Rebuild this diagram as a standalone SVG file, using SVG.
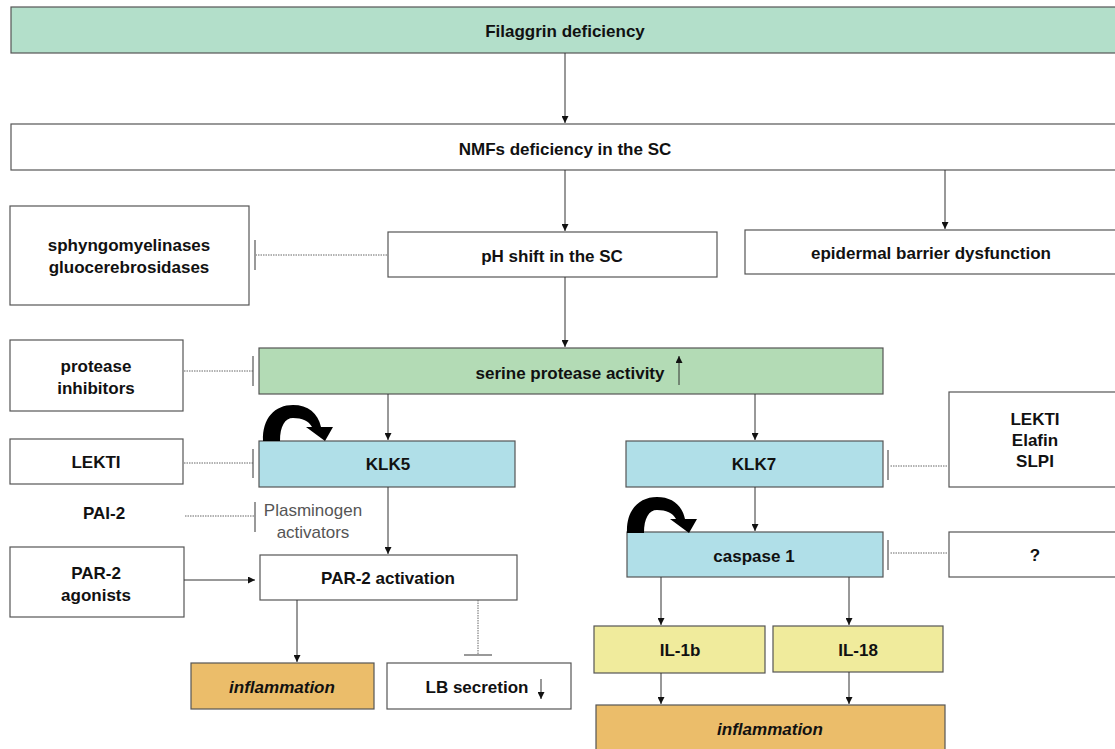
<svg xmlns="http://www.w3.org/2000/svg" width="1115" height="749" viewBox="0 0 1115 749">
<style>
.b{stroke:#555;stroke-width:1.2}
.w{fill:#fff}
.gt{fill:#b3dfca}
.gs{fill:#b3dbb5}
.bl{fill:#b0dfe8}
.ye{fill:#f0eb9c}
.or{fill:#ebbd6a}
text{font-family:"Liberation Sans",Arial,sans-serif;font-weight:bold;font-size:17px;fill:#111;text-anchor:middle;dominant-baseline:central}
.it{font-style:italic}
.pl{font-weight:normal;fill:#555;font-size:17px}
.a{stroke:#333;stroke-width:1;fill:none;marker-end:url(#ah)}
.d{stroke:#666;stroke-width:1;stroke-dasharray:1.5 1;fill:none}
.bar{stroke:#555;stroke-width:1.2;fill:none}
</style>
<defs>
<marker id="ah" viewBox="0 0 10 10" refX="10" refY="5" markerWidth="7" markerHeight="7" markerUnits="userSpaceOnUse" orient="auto">
<path d="M0,0 L10,5 L0,10 z" fill="#111"/>
</marker>
<path id="loop" fill="#000" d="M263,441 C262,418 275,405 293,405 C308,405 318,413 321,427 L333,427 L325,441 L306,427 L312,427 C309,421 302,418 293,418 C285,418 280,426 280,441 Z"/>
</defs>

<g id="filaggrin"><rect class="b gt" x="11" y="7" width="1110" height="46"/><text x="565" y="31">Filaggrin deficiency</text></g>
<g id="nmfs"><rect class="b w" x="11" y="124" width="1110" height="46"/><text x="565" y="149">NMFs deficiency in the SC</text></g>
<g id="sphyngo"><rect class="b w" x="10" y="206" width="239" height="99"/><text x="129" y="245">sphyngomyelinases</text><text x="129" y="267">gluocerebrosidases</text></g>
<g id="ph"><rect class="b w" x="388" y="232" width="329" height="45"/><text x="552" y="256">pH shift in the SC</text></g>
<g id="epidermal"><rect class="b w" x="745" y="230" width="376" height="44"/><text x="931" y="253">epidermal barrier dysfunction</text></g>
<g id="protease-inhibitors"><rect class="b w" x="10" y="340" width="173" height="71"/><text x="96" y="366">protease</text><text x="96" y="388">inhibitors</text></g>
<g id="serine"><rect class="b gs" x="259" y="348" width="624" height="46"/><text x="570" y="373">serine protease activity</text><line x1="679" y1="385" x2="679" y2="356" class="a"/></g>
<g id="lekti-left"><rect class="b w" x="10" y="439" width="173" height="45"/><text x="96" y="462">LEKTI</text></g>
<g id="klk5"><rect class="b bl" x="259" y="441" width="256" height="46"/><text x="388" y="464">KLK5</text></g>
<g id="klk7"><rect class="b bl" x="626" y="441" width="257" height="46"/><text x="754" y="464">KLK7</text></g>
<g id="lekti-elafin-slpi"><rect class="b w" x="949" y="392" width="172" height="95"/><text x="1035" y="419">LEKTI</text><text x="1035" y="440">Elafin</text><text x="1035" y="461">SLPI</text></g>
<g id="pai2"><text x="104" y="513">PAI-2</text></g>
<g id="plasminogen"><text class="pl" x="313" y="510">Plasminogen</text><text class="pl" x="313" y="532">activators</text></g>
<g id="caspase"><rect class="b bl" x="627" y="532" width="256" height="45"/><text x="754" y="556">caspase 1</text></g>
<g id="unknown"><rect class="b w" x="949" y="532" width="172" height="45"/><text x="1035" y="555">?</text></g>
<g id="par2-agonists"><rect class="b w" x="10" y="547" width="174" height="70"/><text x="96" y="573">PAR-2</text><text x="96" y="595">agonists</text></g>
<g id="par2-activation"><rect class="b w" x="260" y="555" width="257" height="45"/><text x="388" y="578">PAR-2 activation</text></g>
<g id="il1b"><rect class="b ye" x="594" y="626" width="171" height="47"/><text x="680" y="650">IL-1b</text></g>
<g id="il18"><rect class="b ye" x="773" y="626" width="170" height="46"/><text x="858" y="650">IL-18</text></g>
<g id="inflammation-left"><rect class="b or" x="191" y="663" width="183" height="46"/><text class="it" x="282" y="687">inflammation</text></g>
<g id="lb-secretion"><rect class="b w" x="387" y="663" width="184" height="46"/><text x="477" y="687">LB secretion</text><line x1="541" y1="679" x2="541" y2="699" class="a"/></g>
<g id="inflammation-right"><rect class="b or" x="596" y="705" width="349" height="60"/><text class="it" x="770" y="729">inflammation</text></g>

<g id="connectors">
<line class="a" x1="565" y1="53" x2="565" y2="123"/>
<line class="a" x1="565" y1="170" x2="565" y2="231"/>
<line class="a" x1="945" y1="170" x2="945" y2="229"/>
<line class="a" x1="565" y1="277" x2="565" y2="347"/>
<line class="a" x1="388" y1="394" x2="388" y2="440"/>
<line class="a" x1="755" y1="394" x2="755" y2="440"/>
<line class="a" x1="388" y1="487" x2="388" y2="554"/>
<line class="a" x1="755" y1="487" x2="755" y2="531"/>
<line class="a" x1="184" y1="580" x2="255" y2="580"/>
<line class="a" x1="297" y1="600" x2="297" y2="662"/>
<line class="a" x1="661" y1="577" x2="661" y2="625"/>
<line class="a" x1="849" y1="577" x2="849" y2="625"/>
<line class="a" x1="661" y1="673" x2="661" y2="704"/>
<line class="a" x1="849" y1="672" x2="849" y2="704"/>
<path class="d" d="M387,255 H256"/><line class="bar" x1="255" y1="240" x2="255" y2="270"/>
<path class="d" d="M184,371 H254"/><line class="bar" x1="253" y1="356" x2="253" y2="386"/>
<path class="d" d="M184,463 H254"/><line class="bar" x1="253" y1="449" x2="253" y2="478"/>
<path class="d" d="M185,516 H254"/><line class="bar" x1="255" y1="502" x2="255" y2="532"/>
<path class="d" d="M947,466 H890"/><line class="bar" x1="888" y1="450" x2="888" y2="480"/>
<path class="d" d="M947,553 H890"/><line class="bar" x1="888" y1="540" x2="888" y2="570"/>
<path class="d" d="M478,600 V654"/><line class="bar" x1="464" y1="655" x2="492" y2="655"/>
<use href="#loop"/>
<use href="#loop" transform="translate(364,92)"/>
</g>
</svg>
